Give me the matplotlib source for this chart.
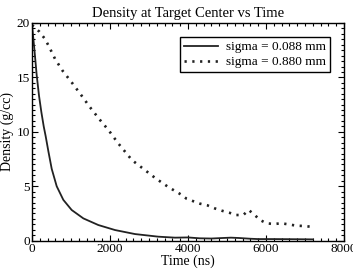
import matplotlib as mpl

mpl.use("Agg")
import matplotlib.pyplot as plt
from matplotlib.ticker import MultipleLocator

# sigma = 0.088 mm
t_a = [0, 60, 120, 180, 240, 300, 350, 420, 505, 633, 803, 1017, 1316, 1700,
       2128, 2641, 3239, 3667, 4000, 4300, 4600, 4900, 5100, 5300, 5600, 5800,
       6200, 6600, 7000, 7200]
d_a = [19.8, 17.6, 15.2, 13.3, 11.8, 10.5, 9.6, 8.2, 6.6, 5.0, 3.75, 2.82, 2.05,
       1.44, 0.98, 0.61, 0.37, 0.28, 0.3, 0.22, 0.2, 0.25, 0.28, 0.25, 0.18,
       0.15, 0.15, 0.14, 0.13, 0.12]

# sigma = 0.880 mm
t_b = [0, 188, 317, 420, 590, 786, 1026, 1256, 1478, 1718, 1974, 2197, 2564,
       2855, 3162, 3487, 3812, 3966, 4308, 4496, 4684, 4872, 5059, 5231, 5418,
       5556, 5692, 5846, 6017, 6197, 6392, 6581, 6777, 6966, 7162]
d_b = [19.8, 19.2, 18.6, 17.95, 16.7, 15.6, 14.5, 13.4, 12.3, 11.2, 10.1, 9.0,
       7.4, 6.6, 5.75, 4.95, 4.26, 3.85, 3.4, 3.25, 2.97, 2.75, 2.57, 2.36, 2.36,
       2.82, 2.42, 1.9, 1.6, 1.53, 1.6, 1.5, 1.38, 1.35, 1.28]

labels = ["sigma = 0.088 mm", "sigma = 0.880 mm"]

plt.rcParams["font.family"] = ["Liberation Serif", "DejaVu Serif"]

fig = plt.figure(figsize=(3.53, 2.70), dpi=100)
ax = fig.add_axes([0.0907, 0.1085, 0.8838, 0.8065])

ax.plot(t_a, d_a, color="#222222", lw=1.3, label=labels[0])
ax.plot(t_b, d_b, color="#222222", lw=1.9, ls=(0, (0.85, 2.1)), label=labels[1])

ax.set_xlim(0, 8000)
ax.set_ylim(0, 20)
ax.xaxis.set_major_locator(MultipleLocator(2000))
ax.xaxis.set_minor_locator(MultipleLocator(200))
ax.yaxis.set_major_locator(MultipleLocator(5))
ax.yaxis.set_minor_locator(MultipleLocator(0.5))
ax.tick_params(which="both", direction="in", top=True, right=True,
               labelsize=9.5, pad=1.5, width=0.8)
ax.tick_params(which="major", length=4)
ax.tick_params(which="minor", length=2)
for s in ax.spines.values():
    s.set_linewidth(1.0)

ax.set_title("Density at Target Center vs Time", fontsize=10.5, pad=4)
ax.set_xlabel("Time (ns)", fontsize=10, labelpad=0)
ax.set_ylabel("Density (g/cc)", fontsize=10, labelpad=2)

leg = ax.legend(loc="upper right", bbox_to_anchor=(0.955, 0.935), fontsize=9.5,
                frameon=True, fancybox=False, framealpha=1, edgecolor="black",
                handlelength=2.6, handletextpad=0.6, borderpad=0.3,
                labelspacing=0.2, borderaxespad=0)
leg.get_frame().set_linewidth(1.0)

fig.savefig("out.png", dpi=100)
